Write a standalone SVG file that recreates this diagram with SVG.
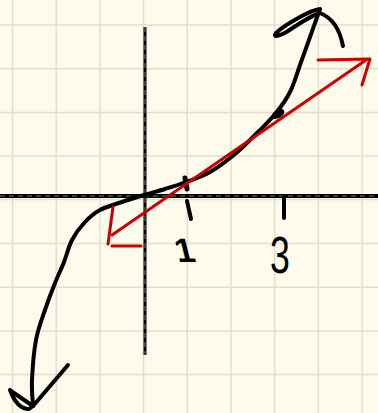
<svg xmlns="http://www.w3.org/2000/svg" width="378" height="413" viewBox="0 0 378 413">
<style>
.grid{stroke:#e2dece;stroke-width:1.5;fill:none}
.ink{stroke:#000;stroke-width:4;fill:none;stroke-linecap:round;stroke-linejoin:round}
.red{stroke:#cc0000;stroke-width:3;fill:none;stroke-linecap:round;stroke-linejoin:round}
.axis{stroke:#000;fill:none}
.tex{stroke:#9a9a9a;stroke-width:0.8;stroke-dasharray:5 4;fill:none}
.num{font-family:"Liberation Sans",Arial,sans-serif;fill:#000}
</style>
<rect width="378" height="413" fill="#fdfcec"/>
<g id="grid" class="grid">
<path d="M12.5 0V413M56.2 0V413M99.9 0V413M143.5 0V413M187.3 0V413M231 0V413M274.7 0V413M318.4 0V413M362.1 0V413"/>
<path d="M0 25H378M0 68.7H378M0 112.4H378M0 156.1H378M0 199.6H378M0 243.4H378M0 287.2H378M0 330.9H378M0 374.6H378"/>
</g>
<g id="axes">
<line class="axis" x1="0" y1="196" x2="378" y2="196" stroke-width="4"/>
<line class="tex" x1="0" y1="196" x2="378" y2="196"/>
<line class="axis" x1="145" y1="27" x2="145" y2="355" stroke-width="3"/>
<line class="tex" x1="145" y1="27" x2="145" y2="355" stroke-width="0.6"/>
</g>
<g id="ticks" class="ink">
<line x1="187" y1="201" x2="191" y2="219"/>
<line x1="284" y1="197" x2="284" y2="218"/>
<line x1="185" y1="178" x2="187" y2="189" stroke-width="5"/>
</g>
<g id="labels">
<text class="num" transform="translate(178,262) skewX(14)" font-size="34" font-weight="bold">1</text>
<text class="num" transform="translate(270,273) scale(0.7,1)" font-size="51">3</text>
</g>
<g id="curve">
<path class="ink" d="M33 406 C32.8 401.7 31.5 391 32 380 C32.5 369 33.8 351.7 36 340 C38.2 328.3 41.8 319.5 45 310 C48.2 300.5 51.8 291 55 283 C58.2 275 61.2 269.2 64 262 C66.8 254.8 68.5 246.7 72 240 C75.5 233.3 80.3 227 85 222 C89.7 217 93.8 213.3 100 210 C106.2 206.7 114.7 204.5 122 202 C129.3 199.5 136.8 197.2 144 195 C151.2 192.8 158 191.2 165 189 C172 186.8 178.5 184.8 186 182 C193.5 179.2 201.8 176.7 210 172 C218.2 167.3 227 160.7 235 154 C243 147.3 251.2 138.8 258 132 C264.8 125.2 270.7 119.7 276 113 C281.3 106.3 286 100 290 92 C294 84 296.7 74.2 300 65 C303.3 55.8 306.7 46.3 310 37 C313.3 27.7 318.3 13.7 320 9 C310 10 283 26 276 33 C272 38 280 36 288 31 C300 23 312 15 320 13 Q338 20 343 46"/>
<ellipse cx="278" cy="114" rx="7" ry="4" transform="rotate(-30 278 114)" fill="#000"/>
<path class="ink" d="M10 390 Q17 409 29 409 L33 406 L11 391"/>
<path class="ink" d="M33 406 L68 365" stroke-width="3"/>
</g>
<g id="secant">
<line class="red" x1="112" y1="235" x2="366" y2="60"/>
<path class="red" d="M113 207 L108 244 M112 246 L141 246"/>
<path class="red" d="M318 60 L370 59 L362 85"/>
</g>
</svg>
